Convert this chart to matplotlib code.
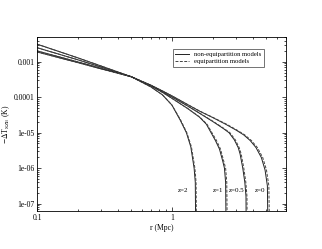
import matplotlib
matplotlib.use("Agg")
import matplotlib.pyplot as plt
from matplotlib.ticker import FixedLocator, LogLocator, NullFormatter

# radius (Mpc) and log10(-dT_SZE / K)
redshifts = ["2", "1", "0.5", "0"]

r_solid = {
    "2": [0.1, 0.2, 0.3, 0.5, 0.7, 0.85, 1.0, 1.15, 1.28, 1.38, 1.46, 1.49, 1.51],
    "1": [0.1, 0.2, 0.3, 0.5, 0.7, 0.85, 1.0, 1.3, 1.6, 1.8, 1.95, 2.1, 2.25, 2.38, 2.45, 2.5, 2.54],
    "0.5": [0.1, 0.2, 0.3, 0.5, 0.7, 0.85, 1.0, 1.3, 1.6, 2.0, 2.4, 2.65, 2.9, 3.1, 3.2, 3.35, 3.47, 3.54, 3.57],
    "0": [0.1, 0.2, 0.3, 0.5, 0.7, 0.85, 1.0, 1.3, 1.6, 2.0, 2.5, 3.0, 3.4, 3.8, 4.2, 4.6, 4.9, 5.1, 5.2],
}
r_dashed = {
    "2": [0.1, 0.2, 0.3, 0.5, 0.7, 0.85, 1.0, 1.16, 1.29, 1.395, 1.48, 1.51, 1.53],
    "1": [0.1, 0.2, 0.3, 0.5, 0.7, 0.85, 1.0, 1.3, 1.61, 1.82, 1.98, 2.14, 2.29, 2.42, 2.5, 2.55, 2.59],
    "0.5": [0.1, 0.2, 0.3, 0.5, 0.7, 0.85, 1.0, 1.3, 1.61, 2.02, 2.43, 2.69, 2.95, 3.15, 3.26, 3.41, 3.53, 3.6, 3.63],
    "0": [0.1, 0.2, 0.3, 0.5, 0.7, 0.85, 1.0, 1.3, 1.61, 2.02, 2.54, 3.05, 3.46, 3.88, 4.3, 4.71, 5.02, 5.23, 5.35],
}
log_dT = {
    "2": [-2.50, -2.885, -3.12, -3.42, -3.71, -3.93, -4.22, -4.64, -5.0, -5.4, -6.0, -6.4, -9.0],
    "1": [-2.60, -2.94, -3.15, -3.42, -3.68, -3.86, -4.03, -4.31, -4.56, -4.76, -5.0, -5.22, -5.46, -5.8, -6.0, -6.4, -9.0],
    "0.5": [-2.69, -3.0, -3.185, -3.42, -3.67, -3.84, -3.99, -4.24, -4.45, -4.68, -4.88, -5.0, -5.2, -5.42, -5.6, -6.0, -6.4, -6.8, -9.0],
    "0": [-2.72, -3.02, -3.20, -3.42, -3.66, -3.82, -3.96, -4.2, -4.39, -4.57, -4.76, -4.93, -5.06, -5.22, -5.42, -5.7, -6.05, -6.5, -9.0],
}
label_x = {"2": 1.22, "1": 2.2, "0.5": 3.0, "0": 4.5}

plt.rcParams["font.family"] = ["Liberation Serif", "DejaVu Serif"]
plt.rcParams["mathtext.fontset"] = "stix"

fig = plt.figure(figsize=(3.22, 2.49), dpi=100)
ax = fig.add_axes([0.115, 0.153, 0.773, 0.698])

for z in redshifts:
    vals = [10 ** v for v in log_dT[z]]
    ax.plot(r_solid[z], vals, color="#222222", lw=0.7, ls="-")
    ax.plot(r_dashed[z], vals, color="#444444", lw=0.7, ls=(0, (3, 1.5)))
    ax.text(label_x[z], 2.3e-7, "z=" + z, fontsize=5, ha="center", va="center")

ax.plot([], [], color="#222222", lw=0.7, ls="-", label="non-equipartition models")
ax.plot([], [], color="#444444", lw=0.7, ls=(0, (3, 1.5)), label="equipartition models")

ax.set_xscale("log")
ax.set_yscale("log")
ax.set_xlim(0.1, 7.0)
ax.set_ylim(6.2e-8, 5.0e-3)

ax.xaxis.set_major_locator(FixedLocator([0.1, 1]))
ax.set_xticklabels(["0.1", "1"])
ax.yaxis.set_major_locator(FixedLocator([1e-7, 1e-6, 1e-5, 1e-4, 1e-3]))
ax.set_yticklabels(["1e-07", "1e-06", "1e-05", "0.0001", "0.001"])
ax.xaxis.set_minor_locator(LogLocator(base=10, subs=range(2, 10)))
ax.yaxis.set_minor_locator(LogLocator(base=10, subs=range(2, 10)))
ax.xaxis.set_minor_formatter(NullFormatter())
ax.yaxis.set_minor_formatter(NullFormatter())
ax.tick_params(which="both", direction="in", top=True, right=True, labelsize=5.5, width=0.5)
ax.tick_params(which="major", length=3, pad=2)
ax.tick_params(which="minor", length=1.5)
for s in ax.spines.values():
    s.set_linewidth(0.6)

ax.set_xlabel("r (Mpc)", fontsize=5.5, labelpad=2)
ax.set_ylabel(r"$-\Delta$T$_{\rm SZE}$ (K)", fontsize=5.5)
ax.yaxis.set_label_coords(-0.1, 0.5)

leg = ax.legend(loc="upper right", bbox_to_anchor=(0.912, 0.931), borderaxespad=0, fontsize=4.8,
                frameon=True, fancybox=False, handlelength=2.0, borderpad=0.4, labelspacing=0.2)
leg.get_frame().set_edgecolor("#333333")
leg.get_frame().set_linewidth(0.6)

fig.savefig("out.png", dpi=100)
